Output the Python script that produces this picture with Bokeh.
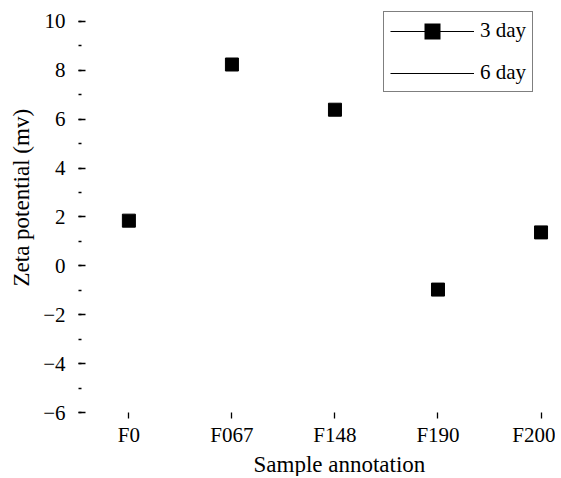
from bokeh.plotting import figure
from bokeh.models import (Legend, LegendItem, Title, FixedTicker, Range1d,
                          SingleIntervalTicker, CustomJSTickFormatter, ColumnDataSource)
from bokeh.embed import file_html
from bokeh.resources import INLINE

# ---- data ----
categories = ["F0", "F067", "F148", "F190", "F200"]
zeta_3day = [1.85, 8.24, 6.39, -0.97, 1.37]
y_ticks = [-6, -4, -2, 0, 2, 4, 6, 8, 10]
series_labels = ["3 day", "6 day"]
x_label = "Sample annotation"
y_label = "Zeta potential (mv)"

FONT = "Liberation Serif"
NAN = float("nan")
x_pos = list(range(len(categories)))

p = figure(width=555, height=476, output_backend="svg", toolbar_location=None,
           x_range=Range1d(-0.489, 4.121), y_range=Range1d(-6, 10.45),
           min_border_left=77, min_border_right=2, min_border_top=10,
           min_border_bottom=63)
p.grid.visible = False
p.outline_line_color = None
p.background_fill_color = "white"

src = ColumnDataSource(dict(x=x_pos, y=zeta_3day))
r_pts = p.scatter("x", "y", source=src, marker="square", size=13, color="black")

# x axis
xa = p.xaxis[0]
xa.ticker = FixedTicker(ticks=x_pos, minor_ticks=[])
xa.major_label_overrides = {i: c for i, c in zip(x_pos, categories)}
xa.axis_line_color = None
xa.major_tick_in = 0
xa.major_tick_out = 6
xa.major_tick_line_width = 1.3
xa.major_tick_line_color = "black"
xa.minor_tick_line_color = None
xa.major_label_standoff = 4
xa.major_label_text_font = FONT
xa.major_label_text_font_size = "21px"
xa.major_label_text_color = "black"

# y axis
ya = p.yaxis[0]
ya.ticker = SingleIntervalTicker(interval=2, num_minor_ticks=2)
ya.formatter = CustomJSTickFormatter(
    code="return tick < 0 ? '\u2212' + Math.abs(tick) : tick.toString();")
ya.axis_line_color = None
ya.major_tick_in = 7
ya.major_tick_out = 0
ya.minor_tick_in = 3
ya.minor_tick_out = 0
ya.major_tick_line_width = 1.3
ya.minor_tick_line_width = 1.3
ya.major_tick_line_color = "black"
ya.minor_tick_line_color = "black"
ya.major_label_standoff = 13
ya.major_label_text_font = FONT
ya.major_label_text_font_size = "21px"
ya.major_label_text_color = "black"

# axis titles
p.add_layout(Title(text=x_label, align="left", offset=175, standoff=0,
                   text_font=FONT, text_font_size="23px",
                   text_font_style="normal", text_color="black"), "below")
p.add_layout(Title(text=y_label, align="left", offset=126, standoff=13,
                   text_font=FONT, text_font_size="23px",
                   text_font_style="normal", text_color="black"), "left")

# legend (dummy renderers, legend only)
r_l3 = p.line(x=[NAN], y=[NAN], line_color="black", line_width=1.2)
r_s3 = p.scatter(x=[NAN], y=[NAN], marker="square", fill_color="black",
                 line_color="black", line_width=8, line_join="miter")
r_l6 = p.line(x=[NAN], y=[NAN], line_color="black", line_width=1.2)
legend = Legend(items=[LegendItem(label=series_labels[0], renderers=[r_l3, r_s3]),
                       LegendItem(label=series_labels[1], renderers=[r_l6])],
                location=(305, 320), glyph_width=84, glyph_height=20,
                padding=6, spacing=17, label_standoff=6, margin=0,
                border_line_color="black", border_line_width=1.2,
                label_text_font=FONT, label_text_font_size="21px",
                label_text_color="black", background_fill_alpha=1)
p.add_layout(legend)

open("out.html", "w").write(file_html(p, INLINE))
